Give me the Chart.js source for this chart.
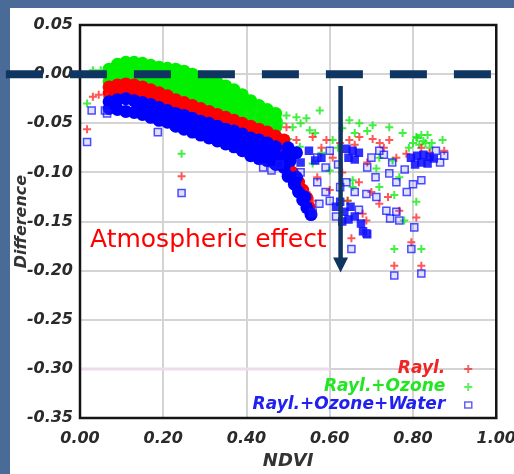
<!DOCTYPE html>
<html>
<head>
<meta charset="utf-8">
<script src="https://cdn.jsdelivr.net/npm/chart.js@4/dist/chart.umd.min.js"></script>
<style>
  html, body { margin: 0; padding: 0; width: 514px; height: 474px; overflow: hidden; background: #4a6a98; }
  #panel { position: absolute; left: 10px; top: 8px; right: 0; bottom: 0; background: #fff; }
  #chart { position: absolute; left: 0; top: 0; }
</style>
</head>
<body>
<div id="panel"></div>
<canvas id="chart" width="527" height="474"></canvas>
<script>
// axis ticks
const xTicks = [0, 0.2, 0.4, 0.6, 0.8, 1.0];
const yTicks = [-0.35, -0.30, -0.25, -0.20, -0.15, -0.10, -0.05, 0.00, 0.05];
const seriesNames = ['Rayl.', 'Rayl.+Ozone', 'Rayl.+Ozone+Water'];

// dense clouds (x = NDVI, y = difference)
const waterBand = [
  [0.07,-0.028],[0.07,-0.035],[0.09,-0.026],[0.09,-0.036],[0.11,-0.025],[0.11,-0.038],
  [0.13,-0.027],[0.13,-0.039],[0.15,-0.029],[0.15,-0.035],[0.15,-0.041],
  [0.17,-0.031],[0.17,-0.038],[0.17,-0.044],[0.19,-0.034],[0.19,-0.041],[0.19,-0.047],
  [0.21,-0.037],[0.21,-0.043],[0.21,-0.049],[0.23,-0.040],[0.23,-0.046],[0.23,-0.053],
  [0.25,-0.042],[0.25,-0.049],[0.25,-0.056],[0.27,-0.045],[0.27,-0.052],[0.27,-0.059],
  [0.29,-0.048],[0.29,-0.055],[0.29,-0.062],[0.31,-0.050],[0.31,-0.057],[0.31,-0.065],
  [0.33,-0.053],[0.33,-0.060],[0.33,-0.068],[0.35,-0.056],[0.35,-0.063],[0.35,-0.071],
  [0.37,-0.058],[0.37,-0.066],[0.37,-0.074],[0.39,-0.061],[0.39,-0.069],[0.39,-0.078],
  [0.41,-0.065],[0.41,-0.073],[0.41,-0.083],[0.43,-0.067],[0.43,-0.076],[0.43,-0.086],
  [0.45,-0.070],[0.45,-0.080],[0.45,-0.088],[0.47,-0.074],[0.47,-0.083],[0.47,-0.092],
  [0.49,-0.084],[0.49,-0.095],[0.50,-0.104],[0.515,-0.112],[0.525,-0.120],[0.535,-0.128],
  [0.545,-0.136],[0.555,-0.143],[0.52,-0.105],[0.54,-0.125],
  [0.50,-0.075],[0.52,-0.080],[0.505,-0.088]
];
const waterClusters = [
  [0.55,-0.078],[0.565,-0.088],[0.58,-0.085],[0.53,-0.090],
  [0.64,-0.076],[0.655,-0.078],[0.67,-0.080],[0.645,-0.085],[0.66,-0.087],
  [0.795,-0.085],[0.81,-0.083],[0.825,-0.082],[0.84,-0.084],[0.805,-0.092],[0.82,-0.090],[0.835,-0.091],[0.85,-0.086],
  [0.615,-0.135],[0.625,-0.130],[0.635,-0.140],[0.65,-0.135],[0.645,-0.148],[0.66,-0.145],
  [0.675,-0.152],[0.68,-0.160],[0.69,-0.163],[0.63,-0.150]
];
const raylBand = [
  [0.07,-0.013],[0.07,-0.019],[0.09,-0.011],[0.09,-0.017],[0.11,-0.010],[0.11,-0.016],
  [0.13,-0.011],[0.13,-0.017],[0.15,-0.013],[0.15,-0.019],[0.17,-0.016],[0.17,-0.022],
  [0.19,-0.019],[0.19,-0.026],[0.21,-0.022],[0.21,-0.029],[0.23,-0.026],[0.23,-0.032],
  [0.25,-0.029],[0.25,-0.035],[0.27,-0.032],[0.27,-0.038],[0.29,-0.035],[0.29,-0.041],
  [0.31,-0.038],[0.31,-0.044],[0.33,-0.041],[0.33,-0.047],[0.35,-0.044],[0.35,-0.050],
  [0.37,-0.047],[0.37,-0.053],[0.39,-0.050],[0.39,-0.056],[0.41,-0.053],[0.41,-0.059],
  [0.43,-0.056],[0.43,-0.062],[0.45,-0.059],[0.45,-0.065],[0.47,-0.063],[0.47,-0.069],
  [0.49,-0.067],[0.49,-0.073],
  [0.50,-0.095],[0.51,-0.100],[0.525,-0.110],[0.535,-0.118],[0.545,-0.126],[0.55,-0.135]
];
const ozoneBand = [
  [0.07,0.005],[0.07,-0.002],[0.07,-0.008],[0.09,0.010],[0.09,0.003],[0.09,-0.004],
  [0.11,0.012],[0.11,0.005],[0.11,-0.002],[0.13,0.012],[0.13,0.005],[0.13,-0.002],
  [0.15,0.011],[0.15,0.004],[0.15,-0.003],[0.17,0.009],[0.17,0.002],[0.17,-0.005],
  [0.19,0.007],[0.19,0.000],[0.19,-0.007],[0.19,-0.012],
  [0.21,0.006],[0.21,-0.001],[0.21,-0.008],[0.21,-0.014],
  [0.23,0.005],[0.23,-0.002],[0.23,-0.009],[0.23,-0.016],
  [0.25,0.003],[0.25,-0.004],[0.25,-0.011],[0.25,-0.018],
  [0.27,0.000],[0.27,-0.007],[0.27,-0.014],[0.27,-0.021],
  [0.29,-0.003],[0.29,-0.010],[0.29,-0.017],[0.29,-0.024],
  [0.31,-0.006],[0.31,-0.013],[0.31,-0.020],[0.31,-0.028],
  [0.33,-0.009],[0.33,-0.016],[0.33,-0.023],[0.33,-0.031],
  [0.35,-0.012],[0.35,-0.019],[0.35,-0.027],[0.35,-0.034],
  [0.37,-0.016],[0.37,-0.023],[0.37,-0.031],[0.37,-0.038],
  [0.39,-0.021],[0.39,-0.029],[0.39,-0.036],[0.39,-0.042],
  [0.41,-0.027],[0.41,-0.034],[0.41,-0.041],[0.41,-0.046],
  [0.43,-0.032],[0.43,-0.039],[0.43,-0.046],[0.45,-0.036],[0.45,-0.043],[0.45,-0.050],
  [0.47,-0.040],[0.47,-0.047],[0.47,-0.054]
];

// scattered single points
const waterPts = [
  [0.028,-0.037],[0.017,-0.069],[0.065,-0.040],[0.244,-0.121],[0.187,-0.059],[0.06,-0.037],
  [0.719,-0.078],[0.743,-0.101],[0.712,-0.125],[0.736,-0.139],[0.767,-0.149],[0.803,-0.156],
  [0.652,-0.178],[0.796,-0.178],[0.755,-0.205],[0.82,-0.203],[0.875,-0.083],[0.60,-0.129],
  [0.559,-0.141],[0.688,-0.162],[0.688,-0.122],[0.57,-0.085],[0.59,-0.095],[0.60,-0.078],
  [0.62,-0.092],[0.70,-0.085],[0.73,-0.082],[0.75,-0.090],[0.76,-0.110],[0.785,-0.120],
  [0.80,-0.112],[0.78,-0.097],[0.865,-0.090],[0.855,-0.078],[0.69,-0.095],[0.71,-0.105],
  [0.64,-0.110],[0.66,-0.120],[0.625,-0.115],[0.53,-0.100],[0.48,-0.092],[0.46,-0.098],
  [0.44,-0.095],[0.57,-0.110],[0.59,-0.120],[0.575,-0.132],[0.615,-0.145],[0.67,-0.138],
  [0.745,-0.147],[0.76,-0.140],[0.82,-0.108]
];
const raylPts = [
  [0.031,-0.023],[0.017,-0.056],[0.065,-0.023],[0.244,-0.104],[0.045,-0.021],
  [0.496,-0.054],[0.52,-0.067],[0.559,-0.064],[0.592,-0.067],[0.647,-0.067],[0.671,-0.064],
  [0.703,-0.066],[0.743,-0.067],[0.784,-0.081],[0.875,-0.078],[0.607,-0.085],[0.60,-0.118],
  [0.643,-0.129],[0.679,-0.142],[0.688,-0.149],[0.652,-0.167],[0.719,-0.132],[0.767,-0.139],
  [0.808,-0.146],[0.796,-0.171],[0.755,-0.195],[0.82,-0.195],[0.559,-0.129],[0.544,-0.120],
  [0.72,-0.070],[0.73,-0.075],[0.66,-0.072],[0.625,-0.070],[0.58,-0.075],[0.84,-0.080],
  [0.82,-0.075],[0.69,-0.090],[0.76,-0.085],[0.63,-0.100],[0.67,-0.110],[0.70,-0.120],
  [0.74,-0.125],[0.57,-0.105]
];
const ozonePts = [
  [0.017,-0.030],[0.031,0.004],[0.244,-0.081],[0.05,0.004],
  [0.424,-0.037],[0.448,-0.044],[0.496,-0.042],[0.52,-0.044],[0.544,-0.045],[0.576,-0.037],
  [0.552,-0.057],[0.647,-0.047],[0.671,-0.050],[0.703,-0.052],[0.743,-0.054],[0.775,-0.060],
  [0.808,-0.064],[0.82,-0.062],[0.871,-0.067],[0.719,-0.085],[0.751,-0.088],[0.712,-0.096],
  [0.767,-0.105],[0.719,-0.115],[0.755,-0.123],[0.808,-0.130],[0.655,-0.108],[0.655,-0.115],
  [0.60,-0.098],[0.643,-0.129],[0.755,-0.178],[0.82,-0.178],[0.779,-0.149],[0.559,-0.091],
  [0.528,-0.074],[0.607,-0.067],[0.511,-0.054],[0.47,-0.060],[0.50,-0.066],[0.53,-0.050],
  [0.63,-0.055],[0.66,-0.060],[0.69,-0.058],[0.80,-0.070],[0.83,-0.070],[0.84,-0.075],
  [0.79,-0.075],[0.62,-0.075],[0.58,-0.080],[0.46,-0.052],[0.485,-0.050],[0.40,-0.040],
  [0.42,-0.045],[0.565,-0.060],
  [0.81,-0.065],[0.825,-0.068],[0.835,-0.062],[0.845,-0.070],[0.815,-0.072]
];

// pink reference segment at -0.30
const refSegX = [0, 0.6];
const refSegY = -0.30;

const toXY = arr => arr.map(p => ({ x: p[0], y: p[1] }));
const tickFont = { family: 'DejaVu Sans', size: 16, style: 'italic', weight: 'bold' };
const navy = '#0f3561';

const overlay = {
  id: 'overlay',
  afterDatasetsDraw(chart) {
    const { ctx, chartArea: a, scales: { x, y } } = chart;
    ctx.save();
    // frame
    ctx.strokeStyle = '#141414';
    ctx.lineWidth = 2.5;
    ctx.strokeRect(a.left, a.top, a.right - a.left, a.bottom - a.top);

    // dashed zero line
    const y0 = y.getPixelForValue(0);
    ctx.strokeStyle = navy;
    ctx.lineWidth = 8;
    ctx.setLineDash([37, 27]);
    ctx.beginPath();
    ctx.moveTo(x.getPixelForValue(-0.178), y0);
    ctx.lineTo(x.getPixelForValue(0.995), y0);
    ctx.stroke();
    ctx.setLineDash([]);

    // arrow
    const ax = x.getPixelForValue(0.626);
    const ay1 = y.getPixelForValue(-0.012);
    const ay2 = y.getPixelForValue(-0.202);
    ctx.lineWidth = 4.5;
    ctx.beginPath();
    ctx.moveTo(ax, ay1);
    ctx.lineTo(ax, ay2 - 12);
    ctx.stroke();
    ctx.fillStyle = navy;
    ctx.beginPath();
    ctx.moveTo(ax - 7.5, ay2 - 15);
    ctx.lineTo(ax + 7.5, ay2 - 15);
    ctx.lineTo(ax, ay2);
    ctx.closePath();
    ctx.fill();

    // annotation
    ctx.fillStyle = '#ff0000';
    ctx.font = '25px "DejaVu Sans"';
    ctx.textAlign = 'left';
    ctx.textBaseline = 'alphabetic';
    ctx.fillText('Atmospheric effect', x.getPixelForValue(0.024), y.getPixelForValue(-0.176));

    // legend
    const cols = ['#f02424', '#22e622', '#2020f0'];
    ctx.font = 'italic bold 17px "DejaVu Sans"';
    ctx.textAlign = 'right';
    ctx.textBaseline = 'middle';
    const tx = a.right - 51, mx = a.right - 28;
    seriesNames.forEach((name, i) => {
      const ty = a.bottom - 49 + i * 18;
      ctx.fillStyle = cols[i];
      ctx.fillText(name, tx, ty);
      ctx.strokeStyle = cols[i];
      ctx.lineWidth = 2;
      ctx.globalAlpha = 0.7;
      if (i < 2) {
        ctx.beginPath();
        ctx.moveTo(mx - 4, ty); ctx.lineTo(mx + 4, ty);
        ctx.moveTo(mx, ty - 4); ctx.lineTo(mx, ty + 4);
        ctx.stroke();
      } else {
        ctx.lineWidth = 1.5;
        ctx.strokeRect(mx - 3.5, ty - 3, 7, 6);
      }
      ctx.globalAlpha = 1;
    });
    ctx.restore();
  }
};

new Chart(document.getElementById('chart'), {
  type: 'scatter',
  data: {
    datasets: [
      { data: toXY(waterPts), pointStyle: 'rect', pointRadius: 5, borderWidth: 1.5,
        borderColor: 'rgba(20,20,255,0.75)', backgroundColor: 'rgba(60,60,255,0.15)' },
      { data: toXY(waterClusters), pointStyle: 'rect', pointRadius: 6, borderWidth: 0,
        backgroundColor: 'rgba(10,10,255,0.85)' },
      { data: toXY(waterBand), pointStyle: 'circle', pointRadius: 6.5, borderWidth: 0,
        backgroundColor: '#0000ff' },
      { data: toXY(raylPts), pointStyle: 'cross', pointRadius: 4, borderWidth: 2,
        borderColor: 'rgba(255,30,30,0.75)' },
      { data: toXY(raylBand), pointStyle: 'circle', pointRadius: 6.5, borderWidth: 0,
        backgroundColor: '#ff0000' },
      { data: toXY(ozonePts), pointStyle: 'cross', pointRadius: 4, borderWidth: 2,
        borderColor: 'rgba(20,235,20,0.8)' },
      { data: toXY(ozoneBand), pointStyle: 'circle', pointRadius: 6.5, borderWidth: 0,
        backgroundColor: '#00f000' },
      { type: 'line', data: refSegX.map(v => ({ x: v, y: refSegY })), borderColor: '#ecdcee',
        borderWidth: 3, pointRadius: 0 }
    ]
  },
  options: {
    responsive: false,
    animation: false,
    layout: { padding: { top: 25, right: 30, left: 0, bottom: 0 } },
    plugins: { legend: { display: false }, tooltip: { enabled: false } },
    scales: {
      x: {
        type: 'linear', min: 0, max: 1,
        afterBuildTicks: s => { s.ticks = xTicks.map(v => ({ value: v })); },
        afterFit: s => { s.height = 56; },
        ticks: { callback: v => v.toFixed(2), font: tickFont, color: '#2a2a2a', padding: 11, maxRotation: 0 },
        grid: { color: '#d4d4d4', lineWidth: 2, drawTicks: false },
        border: { display: false },
        title: { display: true, text: 'NDVI', color: '#333', padding: { bottom: 2, top: 0 },
          font: { family: 'DejaVu Sans', size: 18, style: 'italic', weight: 'bold' } }
      },
      y: {
        type: 'linear', min: -0.35, max: 0.05,
        afterBuildTicks: s => { s.ticks = yTicks.map(v => ({ value: v })); },
        afterFit: s => { s.width = 80; },
        ticks: { callback: v => (Math.abs(v) < 1e-9 ? 0 : v).toFixed(2), font: tickFont, color: '#2a2a2a', padding: 7 },
        grid: { color: '#d4d4d4', lineWidth: 2, drawTicks: false },
        border: { display: false },
        title: { display: true, text: 'Difference', color: '#333', padding: { top: 12, bottom: 0 },
          font: { family: 'DejaVu Sans', size: 16, style: 'italic', weight: 'bold' } }
      }
    }
  },
  plugins: [overlay]
});
</script>
</body>
</html>
